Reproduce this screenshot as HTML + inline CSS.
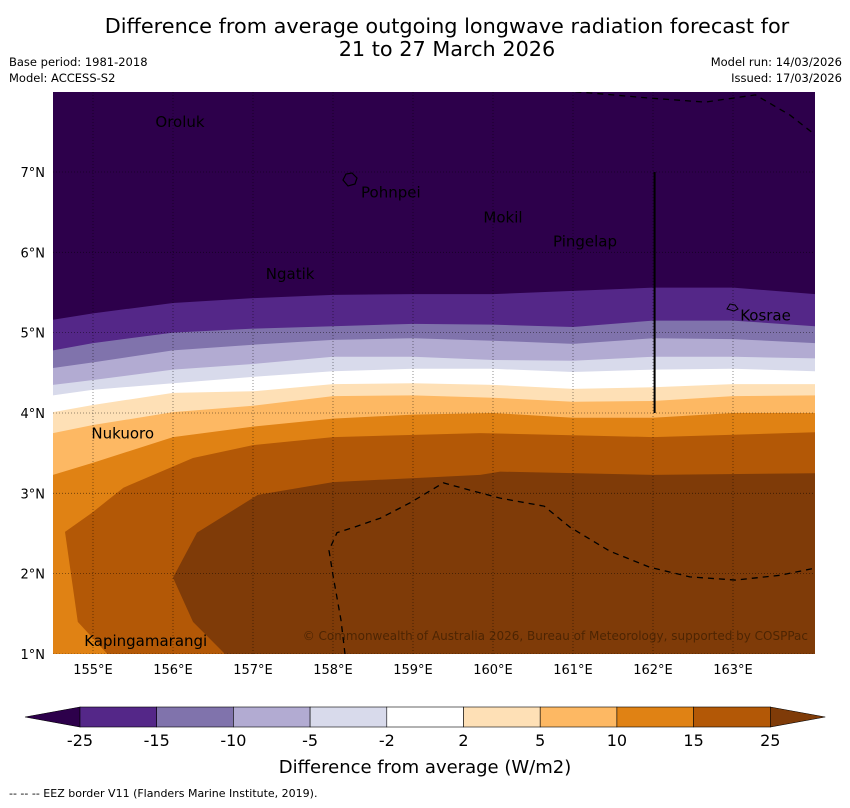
<!DOCTYPE html>
<html><head><meta charset="utf-8">
<style>
body{margin:0;background:#fff;width:850px;height:804px;overflow:hidden;font-family:"DejaVu Sans","Liberation Sans",sans-serif;}
svg text{font-family:"DejaVu Sans","Liberation Sans",sans-serif;}
</style></head>
<body>
<svg id="chart" width="850" height="804" viewBox="0 0 850 804" xmlns="http://www.w3.org/2000/svg">
<text x="447" y="33" font-size="20.8" text-anchor="middle">Difference from average outgoing longwave radiation forecast for</text>
<text x="447" y="56" font-size="20.8" text-anchor="middle">21 to 27 March 2026</text>
<text x="9" y="66" font-size="11.5">Base period: 1981-2018</text>
<text x="9" y="82" font-size="11.5">Model: ACCESS-S2</text>
<text x="842" y="66" font-size="11.5" text-anchor="end">Model run: 14/03/2026</text>
<text x="842" y="82" font-size="11.5" text-anchor="end">Issued: 17/03/2026</text>
<defs><clipPath id="mapclip"><rect x="53" y="92" width="762" height="562"/></clipPath></defs>
<g id="map" clip-path="url(#mapclip)"></g>
<g id="axes"></g>
<g id="cbar"></g>
<text x="425" y="773" font-size="18" text-anchor="middle">Difference from average (W/m2)</text>
<text x="9" y="797" font-size="11">--  --  -- EEZ border V11 (Flanders Marine Institute, 2019).</text>
</svg>
<script>
// ---- data ----
const lons = [154.5,155,156,157,158,159,160,161,162,163,164.03];
const levelColors = ['#542788','#8073ac','#b2abd2','#d8daeb','#ffffff','#fee0b6','#fdb863','#e08214'];
const bLat1 = [5.16,5.24,5.37,5.43,5.47,5.48,5.48,5.52,5.56,5.56,5.48];
const bLat2 = [4.78,4.87,5.00,5.05,5.08,5.11,5.10,5.07,5.15,5.15,5.08];
const bLat3 = [4.56,4.63,4.78,4.85,4.91,4.93,4.90,4.86,4.93,4.92,4.87];
const bLat4 = [4.35,4.41,4.54,4.61,4.70,4.70,4.66,4.65,4.70,4.70,4.68];
const bLat5 = [4.22,4.29,4.37,4.45,4.52,4.55,4.55,4.51,4.54,4.55,4.52];
const bLat6 = [4.01,4.10,4.25,4.27,4.36,4.37,4.35,4.30,4.32,4.36,4.36];
const bLat7 = [3.75,3.85,4.01,4.09,4.21,4.22,4.19,4.14,4.15,4.21,4.22];
const bLat8 = [3.23,3.38,3.70,3.83,3.93,3.98,4.00,3.94,3.94,4.00,4.00];
const poly15Lon = [164.03,162,159.84,158,157,156.25,155.38,154.99,154.65,154.81,155.18,164.03];
const poly15Lat = [3.76,3.70,3.75,3.70,3.60,3.44,3.07,2.76,2.52,1.40,1.00,1.00];
const poly25Lon = [164.03,162,160.09,159.84,158,157.06,156.3,156,156.25,156.65,164.03];
const poly25Lat = [3.25,3.23,3.27,3.23,3.14,2.98,2.51,1.95,1.40,1.00,1.00];
const eezALon = [158.15,158.1,158,157.95,158.05,158.24,158.59,158.96,159.38,159.71,160.09,160.64,160.96,161.46,161.96,162.46,163.03,163.59,164.03];
const eezALat = [1.0,1.42,1.98,2.29,2.51,2.57,2.69,2.88,3.13,3.04,2.94,2.84,2.58,2.28,2.08,1.96,1.92,1.98,2.07];
const eezBLon = [161.03,161.96,162.65,163.28,163.71,164.03];
const eezBLat = [8.0,7.92,7.87,7.96,7.71,7.46];
const placeNames = ['Oroluk','Pohnpei','Mokil','Pingelap','Ngatik','Kosrae','Nukuoro','Kapingamarangi'];
const placeLon = [155.78,158.35,159.88,160.75,157.16,163.09,154.98,154.89];
const placeLat = [7.56,6.68,6.37,6.07,5.67,5.15,3.68,1.10];
const xTicks = [155,156,157,158,159,160,161,162,163];
const yTicks = [1,2,3,4,5,6,7];
const cbLevels = ['-25','-15','-10','-5','-2','2','5','10','15','25'];
const cbColors = ['#542788','#8073ac','#b2abd2','#d8daeb','#ffffff','#fee0b6','#fdb863','#e08214','#b35806'];

// ---- axes ----
const X = lon => 53 + (lon - 154.5) * 80;
const Y = lat => 172 + (7 - lat) * 80.33;
const NS = 'http://www.w3.org/2000/svg';
function mk(tag, attrs, parent){const e=document.createElementNS(NS,tag);for(const k in attrs)e.setAttribute(k,attrs[k]);parent.appendChild(e);return e;}
const map = document.getElementById('map');
const bg = mk('rect',{x:53,y:92,width:762,height:562,fill:'#2d004b'},map);


const bounds=[bLat1,bLat2,bLat3,bLat4,bLat5,bLat6,bLat7,bLat8];
bounds.forEach((b,i)=>{
  let d='M'+X(lons[0])+','+Y(b[0]);
  for(let j=1;j<lons.length;j++) d+=' L'+X(lons[j])+','+Y(b[j]);
  d+=' L815,660 L53,660 Z';
  const p=mk('path',{d:d,fill:levelColors[i]},map);
  
  
});
function polyPath(ls,la){return ls.map((l,i)=>(i?'L':'M')+X(l)+','+Y(la[i])).join(' ');}
const p15=mk('path',{d:polyPath(poly15Lon,poly15Lat)+' L820,660 L820,400 Z',fill:'#b35806'},map);


const p25=mk('path',{d:polyPath(poly25Lon,poly25Lat)+' L820,660 L820,400 Z',fill:'#7f3b08'},map);


// grid
xTicks.forEach(t=>{const l=mk('line',{x1:X(t),x2:X(t),y1:92,y2:654,stroke:'rgba(0,0,0,0.55)','stroke-width':0.8,'stroke-dasharray':'1,2'},map);

});
yTicks.forEach(t=>{const l=mk('line',{x1:53,x2:815,y1:Y(t),y2:Y(t),stroke:'rgba(0,0,0,0.55)','stroke-width':0.8,'stroke-dasharray':'1,2'},map);

});
// EEZ
[[eezALon,eezALat],[eezBLon,eezBLat]].forEach((e,i)=>{const p=mk('path',{d:polyPath(e[0],e[1]),fill:'none',stroke:'#000','stroke-width':1.3,'stroke-dasharray':'6,5'},map);

});
const vl=mk('line',{x1:X(162.02),x2:X(162.02),y1:Y(7),y2:Y(4),stroke:'#000','stroke-width':2},map);


// islands
const pi=mk('path',{d:'M343,180 l3,-6 l6,-1 l5,5 l-2,6 l-7,2 z',fill:'none',stroke:'#000','stroke-width':1.2},map);


const ki=mk('path',{d:'M727,309 l3,-5 l5,1 l3,4 l-4,2 z',fill:'none',stroke:'#000','stroke-width':1},map);


placeNames.forEach((n,i)=>{const t=mk('text',{x:X(placeLon[i]),y:Y(placeLat[i]),'font-size':15,fill:'#000'},map);t.textContent=n;

});
const cp=mk('text',{x:808,y:640,'font-size':12,'text-anchor':'end',fill:'rgba(60,30,0,0.75)'},map);
cp.textContent='© Commonwealth of Australia 2026, Bureau of Meteorology, supported by COSPPac';


// tick labels
const axes=document.getElementById('axes');
xTicks.forEach(t=>{const e=mk('text',{x:X(t),y:674,'font-size':13,'text-anchor':'middle'},axes);e.textContent=t+'°E';

});
yTicks.forEach(t=>{const e=mk('text',{x:45,y:Y(t)+5,'font-size':13,'text-anchor':'end'},axes);e.textContent=t+'°N';

});
// colorbar
const cb=document.getElementById('cbar');
const cx0=80, cw=76.7, cy=707, ch=20;
const lt=mk('path',{d:`M${cx0},${cy} L25,${cy+ch/2} L${cx0},${cy+ch} Z`,fill:'#2d004b',stroke:'#000','stroke-width':0.6},cb);


cbColors.forEach((c,i)=>{const r=mk('rect',{x:cx0+i*cw,y:cy,width:cw,height:ch,fill:c,stroke:'#000','stroke-width':0.6},cb);

});
const rx=cx0+cbColors.length*cw;
const rt=mk('path',{d:`M${rx},${cy} L${rx+55},${cy+ch/2} L${rx},${cy+ch} Z`,fill:'#7f3b08',stroke:'#000','stroke-width':0.6},cb);


cbLevels.forEach((l,i)=>{const t=mk('text',{x:cx0+i*cw,y:746,'font-size':16,'text-anchor':'middle'},cb);t.textContent=l;

});
</script>
</body></html>
